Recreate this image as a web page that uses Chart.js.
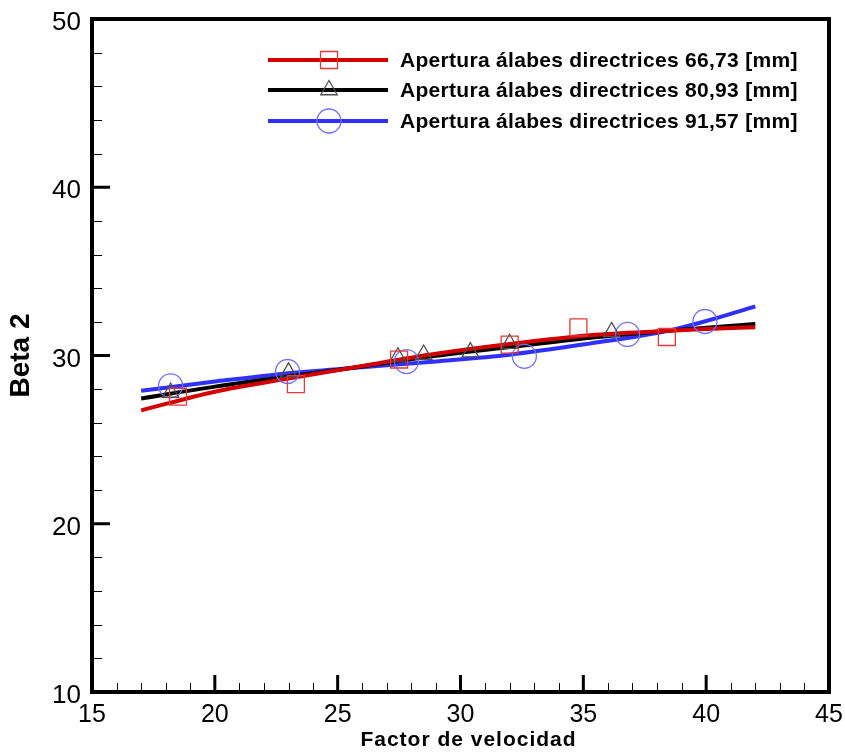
<!DOCTYPE html>
<html>
<head>
<meta charset="utf-8">
<script src="https://cdn.jsdelivr.net/npm/chart.js@4.4.1/dist/chart.umd.min.js"></script>
<style>
  body { margin: 0; background: #fff; }
  #wrap { width: 845px; height: 754px; }
</style>
</head>
<body>
<div id="wrap"><canvas id="betaChart"></canvas></div>
<script>
// legend labels
const seriesLabels = [
    'Apertura álabes directrices 66,73 [mm]',
    'Apertura álabes directrices 80,93 [mm]',
    'Apertura álabes directrices 91,57 [mm]'
];
const xTitle = 'Factor de velocidad';

// measured points (markers)
const redPtsX = [18.5, 23.3, 27.5, 32.0, 34.8, 38.4];
const redPtsY = [27.55, 28.3, 29.76, 30.65, 31.67, 31.1];
const blackPtsX = [18.2, 23.0, 27.45, 28.5, 30.4, 32.0, 36.15];
const blackPtsY = [27.8, 29.0, 29.9, 30.06, 30.2, 30.7, 31.4];
const bluePtsX = [18.2, 22.96, 27.8, 32.6, 36.8, 39.95];
const bluePtsY = [28.2, 29.05, 29.64, 29.95, 31.25, 32.02];

// fitted curves
const fitX = [17, 20, 23, 26, 29, 32, 35.3, 38.3, 40, 42];
const redFitY = [26.74, 27.85, 28.63, 29.38, 30.1, 30.68, 31.2, 31.45, 31.57, 31.68];
const blackFitY = [27.44, 28.15, 28.75, 29.35, 29.98, 30.5, 31.05, 31.45, 31.65, 31.88];
const blueFitY = [27.9, 28.45, 28.95, 29.3, 29.65, 30.05, 30.72, 31.42, 32.05, 32.92];

const xMajor = [15, 20, 25, 30, 35, 40, 45];
const yMajor = [10, 20, 30, 40, 50];

function pts(xs, ys) {
    return xs.map((x, i) => ({ x: x, y: ys[i] }));
}

const lineColors = ['#d40000', '#000000', '#2f2fff'];
const markerColors = ['#e03a3a', '#505050', '#7272ff'];
const markerStyles = ['rect', 'triangle', 'circle'];
const markerSizes = [12, 9.5, 12];

const fits = [redFitY, blackFitY, blueFitY];
const markers = [[redPtsX, redPtsY], [blackPtsX, blackPtsY], [bluePtsX, bluePtsY]];

const datasets = [];
for (let i = 0; i < 3; i++) {
    datasets.push({
        label: seriesLabels[i],
        type: 'line',
        data: pts(fitX, fits[i]),
        borderColor: lineColors[i],
        borderWidth: 4,
        pointRadius: 0,
        fill: false,
        cubicInterpolationMode: 'monotone',
        order: 2
    });
}
for (let i = 0; i < 3; i++) {
    datasets.push({
        label: seriesLabels[i] + ' puntos',
        type: 'line',
        showLine: false,
        data: pts(markers[i][0], markers[i][1]),
        pointStyle: markerStyles[i],
        pointRadius: markerSizes[i],
        pointBorderColor: markerColors[i],
        pointBackgroundColor: 'rgba(0,0,0,0)',
        pointBorderWidth: 1.3,
        order: 1
    });
}

// frame, inward ticks, tick labels, x title and legend
const framePlugin = {
    id: 'frame',
    afterDraw(chart) {
        const ctx = chart.ctx;
        const a = chart.chartArea;
        const xs = chart.scales.x;
        const ys = chart.scales.y;
        ctx.save();
        ctx.strokeStyle = '#000';
        ctx.lineCap = 'butt';

        // minor ticks
        ctx.lineWidth = 1;
        ctx.beginPath();
        for (let v = 16; v < 45; v++) {
            if (v % 5 === 0) continue;
            const px = Math.round(xs.getPixelForValue(v)) + 0.5;
            ctx.moveTo(px, a.bottom);
            ctx.lineTo(px, a.bottom - 9);
        }
        for (let v = 12; v < 50; v += 2) {
            if (v % 10 === 0) continue;
            const py = Math.round(ys.getPixelForValue(v)) + 0.5;
            ctx.moveTo(a.left, py);
            ctx.lineTo(a.left + 10, py);
        }
        ctx.stroke();

        // major ticks
        ctx.lineWidth = 3;
        ctx.beginPath();
        xMajor.slice(1, -1).forEach(v => {
            const px = xs.getPixelForValue(v);
            ctx.moveTo(px, a.bottom);
            ctx.lineTo(px, a.bottom - 17);
        });
        yMajor.slice(1, -1).forEach(v => {
            const py = ys.getPixelForValue(v);
            ctx.moveTo(a.left, py);
            ctx.lineTo(a.left + 18, py);
        });
        ctx.stroke();

        // border
        ctx.lineWidth = 4;
        ctx.strokeRect(a.left, a.top, a.right - a.left, a.bottom - a.top);

        // tick labels
        ctx.fillStyle = '#000';
        ctx.textBaseline = 'alphabetic';
        ctx.font = '25px "Liberation Sans", Arial, sans-serif';
        ctx.textAlign = 'center';
        xMajor.forEach(v => {
            ctx.fillText(String(v), xs.getPixelForValue(v), a.bottom + 30);
        });
        ctx.font = '26px "Liberation Sans", Arial, sans-serif';
        ctx.textAlign = 'right';
        yMajor.forEach(v => {
            ctx.fillText(String(v), a.left - 11, ys.getPixelForValue(v) + 11);
        });

        // x axis title
        ctx.letterSpacing = '1px';
        ctx.font = 'bold 21px "Liberation Sans", Arial, sans-serif';
        ctx.textAlign = 'center';
        ctx.fillText(xTitle, (a.left + a.right) / 2 + 8, 746);

        // legend
        const rowY = [a.top + 41, a.top + 71, a.top + 102];
        for (let i = 0; i < 3; i++) {
            const y = rowY[i];
            ctx.strokeStyle = lineColors[i];
            ctx.lineWidth = 4;
            ctx.beginPath();
            ctx.moveTo(a.left + 176, y);
            ctx.lineTo(a.left + 296, y);
            ctx.stroke();
            ctx.strokeStyle = markerColors[i];
            ctx.fillStyle = 'rgba(0,0,0,0)';
            ctx.lineWidth = 1.3;
            Chart.helpers.drawPoint(ctx, {
                pointStyle: markerStyles[i],
                radius: markerSizes[i],
                rotation: 0,
                borderWidth: 1.3
            }, a.left + 237, y);
            ctx.fillStyle = '#000';
            ctx.letterSpacing = '0.3px';
            ctx.font = 'bold 21px "Liberation Sans", Arial, sans-serif';
            ctx.textBaseline = 'middle';
            ctx.textAlign = 'left';
            ctx.fillText(seriesLabels[i], a.left + 308, y + 1);
        }
        ctx.letterSpacing = '0px';
        ctx.restore();
    }
};

const ctx = document.getElementById('betaChart').getContext('2d');
new Chart(ctx, {
    data: { datasets: datasets },
    options: {
        responsive: true,
        maintainAspectRatio: false,
        animation: false,
        layout: { padding: { left: 4, top: 19, right: 16, bottom: 2 } },
        plugins: {
            legend: { display: false },
            tooltip: { enabled: false }
        },
        scales: {
            x: {
                type: 'linear',
                min: 15,
                max: 45,
                afterBuildTicks: s => { s.ticks = xMajor.map(v => ({ value: v })); },
                afterFit: s => { s.height = 60; },
                grid: { display: false, drawTicks: false },
                border: { display: false },
                ticks: { display: false },
                title: { display: false }
            },
            y: {
                type: 'linear',
                min: 10,
                max: 50,
                afterBuildTicks: s => { s.ticks = yMajor.map(v => ({ value: v })); },
                afterFit: s => { s.width = 88; },
                grid: { display: false, drawTicks: false },
                border: { display: false },
                ticks: { display: false },
                title: {
                    display: true,
                    text: 'Beta 2',
                    color: '#000',
                    padding: { top: 0, bottom: 0 },
                    font: { family: '"Liberation Sans", Arial, sans-serif', size: 28, weight: 'bold' }
                }
            }
        }
    },
    plugins: [framePlugin]
});
</script>
</body>
</html>
